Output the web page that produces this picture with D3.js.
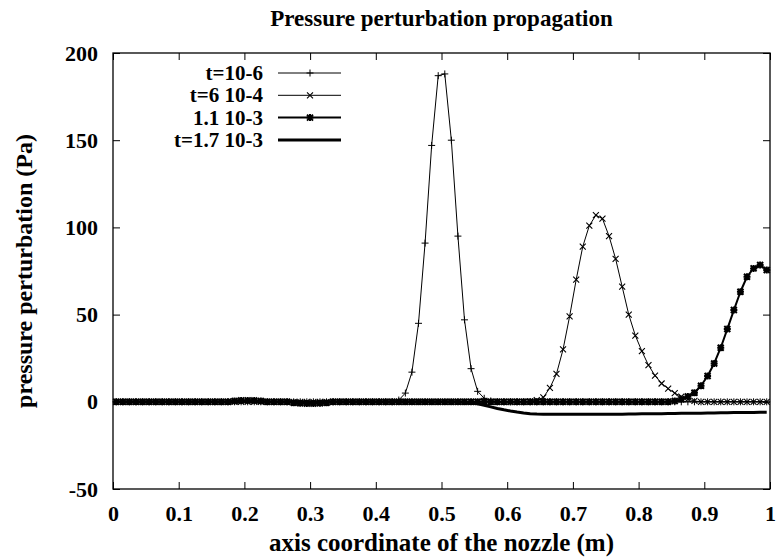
<!DOCTYPE html>
<meta charset="utf-8">
<style>
	body { margin: 0; background: #fff; }
	svg { display: block; }
	text { font-family: "Liberation Serif", "Times New Roman", serif; font-weight: bold; fill: #000; }
	.tick text { font-size: 22px; font-family: "Liberation Serif", serif; }
	.frame { fill: none; stroke: #000; stroke-width: 1.3px; }
</style>
<body>
<svg id="chart" width="776" height="558"></svg>
<script src="https://cdn.jsdelivr.net/npm/d3@7"></script>
<script>
	// sampling points along the nozzle (m), 100 cells
	var xs = d3.range(100).map(function(i) { return 0.005 + 0.01 * i; });

	var seriesNames = ["t=10-6", "t=6 10-4", "1.1 10-3", "t=1.7 10-3"];

	// t=10-6
	var p1 = [
		0, 0, 0, 0, 0, 0, 0, 0, 0, 0,
		0, 0, 0, 0, 0, 0, 0, 0, 0, 0,
		0, 0, 0, 0, 0, 0, 0, 0, 0, 0,
		0, 0, 0, 0, 0, 0, 0, 0, 0, 0,
		0, 0, 0, 1, 5, 17, 45, 91, 147, 187,
		188, 150, 95, 47, 19, 6, 2, 0.5, 0, 0,
		0, 0, 0, 0, 0, 0, 0, 0, 0, 0,
		0, 0, 0, 0, 0, 0, 0, 0, 0, 0,
		0, 0, 0, 0, 0, 0, 0, 0, 0, 0,
		0, 0, 0, 0, 0, 0, 0, 0, 0, 0
	];
	// t=6 10-4
	var p2 = [
		0, 0, 0, 0, 0, 0, 0, 0, 0, 0,
		0, 0, 0, 0, 0, 0, 0, 0, 0, 0,
		0, 0, 0, 0, 0, 0, 0, 0, 0, 0,
		0, 0, 0, 0, 0, 0, 0, 0, 0, 0,
		0, 0, 0, 0, 0, 0, 0, 0, 0, 0,
		0, 0, 0, 0, 0, 0, 0, 0, 0, 0,
		0, 0, 0, 0.3, 1, 2.5, 8, 16, 30, 49,
		70, 89, 101, 107, 105, 95, 82, 66, 50, 38,
		29, 21, 15, 10.5, 7.5, 5, 3, 1.5, 0.5, 0,
		0, 0, 0, 0, 0, 0, 0, 0, 0, 0
	];
	// 1.1 10-3
	var p3 = [
		0, 0, 0, 0, 0, 0, 0, 0, 0, 0,
		0, 0, 0, 0, 0, 0, 0, 0, 0.5, 0.8,
		0.8, 0.7, 0.5, 0, 0, 0, 0, -0.5, -0.8, -1,
		-1, -0.8, -0.5, 0, 0, 0, 0, 0, 0, 0,
		0, 0, 0, 0, 0, 0, 0, 0, 0, 0,
		0, 0, 0, 0, 0, 0, 0, 0, 0, 0,
		0, 0, 0, 0, 0, 0, 0, 0, 0, 0,
		0, 0, 0, 0, 0, 0, 0, 0, 0, 0,
		0, 0, 0, 0, 0, 0.5, 1.5, 3, 5.2, 9.2,
		14.8, 22, 31, 41.7, 52.6, 63.1, 71.7, 76.5, 78.4, 75.6
	];
	// t=1.7 10-3
	var p4 = [
		0, 0, 0, 0, 0, 0, 0, 0, 0, 0,
		0, 0, 0, 0, 0, 0, 0, 0, 0, 0,
		0, 0, 0, 0, 0, 0, 0, 0, 0, 0,
		0, 0, 0, 0, 0, 0, 0, 0, 0, 0,
		0, 0, 0, 0, 0, 0, 0, 0, 0, 0,
		0, 0, 0, -0.2, -0.6, -1.2, -2, -2.9, -3.8, -4.6,
		-5.3, -5.9, -6.4, -6.8, -7, -7.1, -7.2, -7.2, -7.2, -7.2,
		-7.2, -7.2, -7.2, -7.2, -7.2, -7.2, -7.1, -7.1, -7, -7,
		-6.9, -6.9, -6.8, -6.8, -6.7, -6.7, -6.6, -6.6, -6.5, -6.5,
		-6.4, -6.4, -6.3, -6.3, -6.2, -6.2, -6.1, -6.1, -6, -6
	];

	var xTicks = [0, 0.1, 0.2, 0.3, 0.4, 0.5, 0.6, 0.7, 0.8, 0.9, 1];
	var yTicks = [-50, 0, 50, 100, 150, 200];

	var margin = { left: 113, right: 6, top: 53, bottom: 69 };
	var W = 776, H = 558;

	var svg = d3.select("#chart");

	var x = d3.scaleLinear().domain([0, 1]).range([margin.left, W - margin.right]);
	var y = d3.scaleLinear().domain([-50, 200]).range([H - margin.bottom, margin.top]);

	// marker shapes, gnuplot style
	var plusPath = "M-3.5,0H3.5M0,-3.5V3.5";
	var crossPath = "M-3,-3L3,3M-3,3L3,-3";
	var starPath = "M-3.5,0H3.5M0,-3.5V3.5M-3,-3L3,3M-3,3L3,-3";

	var styles = [
		{ data: p1, lw: 1, mark: plusPath, mw: 1 },
		{ data: p2, lw: 1, mark: crossPath, mw: 1.1 },
		{ data: p3, lw: 2, mark: starPath, mw: 2 },
		{ data: p4, lw: 3, mark: null, mw: 0 }
	];

	// axes, ticks inward and mirrored
	function fmtX(d) { return d === 0 ? "0" : d === 1 ? "1" : d3.format(".1f")(d); }
	function fmtY(d) { return String(d); }

	svg.append("g")
		.attr("transform", "translate(0," + y(-50) + ")")
		.call(d3.axisBottom(x).tickValues(xTicks).tickFormat(fmtX).tickSizeInner(-7).tickSizeOuter(0).tickPadding(16))
		.call(function(g) { g.select(".domain").remove(); });
	svg.append("g")
		.attr("transform", "translate(0," + y(200) + ")")
		.call(d3.axisTop(x).tickValues(xTicks).tickFormat("").tickSizeInner(-7).tickSizeOuter(0))
		.call(function(g) { g.select(".domain").remove(); });
	svg.append("g")
		.attr("transform", "translate(" + x(0) + ",0)")
		.call(d3.axisLeft(y).tickValues(yTicks).tickFormat(fmtY).tickSizeInner(-7).tickSizeOuter(0).tickPadding(15))
		.call(function(g) { g.select(".domain").remove(); });
	svg.append("g")
		.attr("transform", "translate(" + x(1) + ",0)")
		.call(d3.axisRight(y).tickValues(yTicks).tickFormat("").tickSizeInner(-7).tickSizeOuter(0))
		.call(function(g) { g.select(".domain").remove(); });

	svg.selectAll(".tick line").attr("stroke", "#000").attr("stroke-width", 1);

	svg.append("rect")
		.attr("class", "frame")
		.attr("x", x(0)).attr("y", y(200))
		.attr("width", x(1) - x(0)).attr("height", y(-50) - y(200));

	// curves
	var line = d3.line()
		.x(function(d, i) { return x(xs[i]); })
		.y(function(d) { return y(d); });

	styles.forEach(function(s) {
		svg.append("path")
			.datum(s.data)
			.attr("fill", "none")
			.attr("stroke", "#000")
			.attr("stroke-width", s.lw)
			.attr("stroke-linejoin", "round")
			.attr("d", line);
		if (s.mark) {
			svg.append("g").selectAll("path")
				.data(s.data)
				.join("path")
				.attr("transform", function(d, i) { return "translate(" + x(xs[i]) + "," + y(d) + ")"; })
				.attr("d", s.mark)
				.attr("fill", "none")
				.attr("stroke", "#000")
				.attr("stroke-width", s.mw);
		}
	});

	// legend
	var legend = svg.append("g");
	seriesNames.forEach(function(name, i) {
		var ly = 73 + i * 22.3;
		var s = styles[i];
		legend.append("text")
			.attr("x", 263).attr("y", ly)
			.attr("dy", "0.33em")
			.attr("text-anchor", "end")
			.style("font-size", "21px")
			.text(name);
		legend.append("line")
			.attr("x1", 278).attr("x2", 341)
			.attr("y1", ly).attr("y2", ly)
			.attr("stroke", "#000")
			.attr("stroke-width", s.lw);
		if (s.mark) {
			legend.append("path")
				.attr("transform", "translate(310," + ly + ")")
				.attr("d", s.mark)
				.attr("fill", "none")
				.attr("stroke", "#000")
				.attr("stroke-width", s.mw);
		}
	});

	// titles
	svg.append("text")
		.attr("x", (x(0) + x(1)) / 2).attr("y", 26)
		.attr("text-anchor", "middle")
		.style("font-size", "23px")
		.text("Pressure perturbation propagation");

	svg.append("text")
		.attr("x", (x(0) + x(1)) / 2).attr("y", 551)
		.attr("text-anchor", "middle")
		.style("font-size", "25px")
		.text("axis coordinate of the nozzle (m)");

	svg.append("text")
		.attr("transform", "translate(32," + (y(-50) + y(200)) / 2 + ") rotate(-90)")
		.attr("text-anchor", "middle")
		.style("font-size", "24px")
		.text("pressure perturbation (Pa)");
</script>
</body>
